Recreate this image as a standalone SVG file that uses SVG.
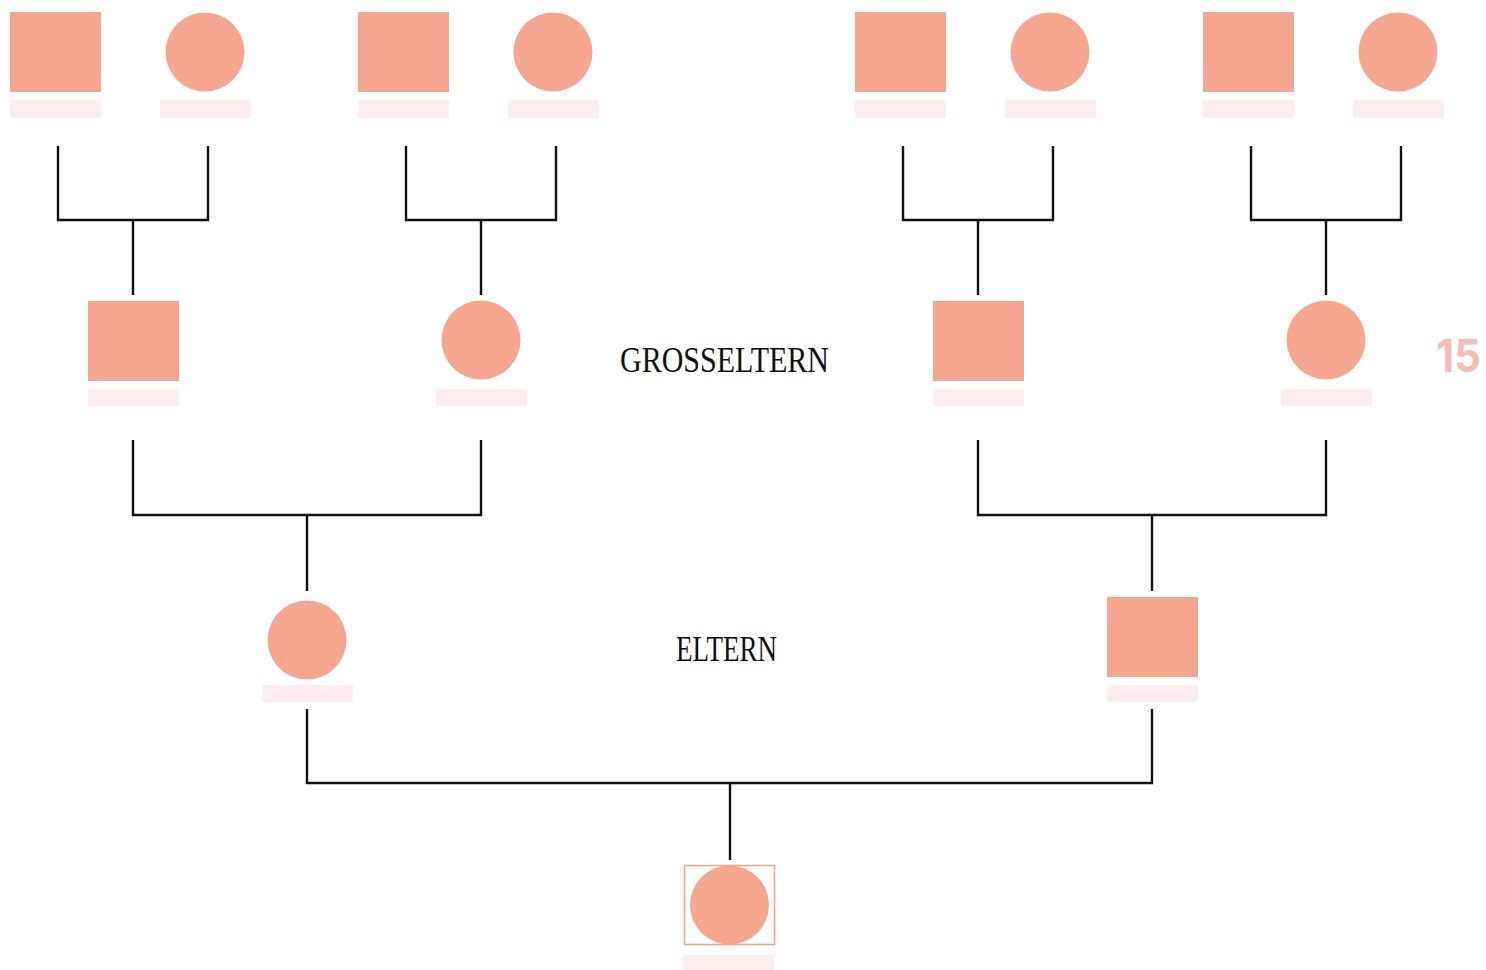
<svg xmlns="http://www.w3.org/2000/svg" width="1486" height="970" viewBox="0 0 1486 970">
  <style>
    .shape { fill: #F5A690; }
    .bar { fill: #FCEEEE; }
    .link { fill: none; stroke: #111; stroke-width: 2.4; stroke-linejoin: miter; stroke-linecap: butt; }
    .title { font-family: "Liberation Serif", "DejaVu Serif", serif; font-size: 36px; fill: #111; }
    .num { font-family: "Inter", "Liberation Sans", sans-serif; font-weight: 700; font-size: 45px; fill: #F4BDB5; }
  </style>

  <!-- pedigree connectors -->
  <g id="connectors" class="link">
    <path d="M58,146 V220 H208 V146 M133,220 V295"/>
    <path d="M406,146 V220 H556 V146 M481,220 V295"/>
    <path d="M903,146 V220 H1053 V146 M978,220 V295"/>
    <path d="M1251,146 V220 H1401 V146 M1326,220 V295"/>
    <path d="M133,440 V515 H481 V440 M307,515 V591"/>
    <path d="M978,440 V515 H1326 V440 M1152,515 V591"/>
    <path d="M307,709 V783 H1152 V709 M730,783 V860"/>
  </g>

  <!-- great-grandparents -->
  <g id="gg1"><rect class="shape" x="10" y="12" width="91" height="80"/><rect class="bar" x="10" y="100" width="91" height="18"/></g>
  <g id="gg2"><circle class="shape" cx="205" cy="52" r="39.5"/><rect class="bar" x="160" y="100" width="91" height="18"/></g>
  <g id="gg3"><rect class="shape" x="358" y="12" width="91" height="80"/><rect class="bar" x="358" y="100" width="91" height="18"/></g>
  <g id="gg4"><circle class="shape" cx="553" cy="52" r="39.5"/><rect class="bar" x="508" y="100" width="91" height="18"/></g>
  <g id="gg5"><rect class="shape" x="855" y="12" width="91" height="80"/><rect class="bar" x="855" y="100" width="91" height="18"/></g>
  <g id="gg6"><circle class="shape" cx="1050" cy="52" r="39.5"/><rect class="bar" x="1005" y="100" width="91" height="18"/></g>
  <g id="gg7"><rect class="shape" x="1203" y="12" width="91" height="80"/><rect class="bar" x="1203" y="100" width="91" height="18"/></g>
  <g id="gg8"><circle class="shape" cx="1398" cy="52" r="39.5"/><rect class="bar" x="1353" y="100" width="91" height="18"/></g>

  <!-- grandparents -->
  <g id="gp1"><rect class="shape" x="88" y="301" width="91" height="80"/><rect class="bar" x="88" y="389" width="91" height="17"/></g>
  <g id="gp2"><circle class="shape" cx="481" cy="340" r="39.5"/><rect class="bar" x="436" y="389" width="91" height="17"/></g>
  <g id="gp3"><rect class="shape" x="933" y="301" width="91" height="80"/><rect class="bar" x="933" y="389" width="91" height="17"/></g>
  <g id="gp4"><circle class="shape" cx="1326" cy="340" r="39.5"/><rect class="bar" x="1281" y="389" width="91" height="17"/></g>

  <!-- parents -->
  <g id="p1"><circle class="shape" cx="307" cy="640" r="39.5"/><rect class="bar" x="262" y="685" width="91" height="17"/></g>
  <g id="p2"><rect class="shape" x="1107" y="597" width="91" height="80"/><rect class="bar" x="1107" y="685" width="91" height="17"/></g>

  <!-- proband -->
  <g id="self">
    <rect x="684.5" y="865.5" width="90" height="79" fill="none" stroke="#F5A690" stroke-width="1.6"/>
    <circle class="shape" cx="729.5" cy="905" r="39.5"/>
    <rect class="bar" x="683" y="955" width="91" height="15"/>
  </g>

  <!-- generation labels -->
  <g id="labels">
    <text class="title" x="620" y="372" textLength="209" lengthAdjust="spacingAndGlyphs">GROSSELTERN</text>
    <text class="title" x="676" y="661" textLength="101" lengthAdjust="spacingAndGlyphs">ELTERN</text>
    <text class="num" x="1436" y="372" textLength="45" lengthAdjust="spacingAndGlyphs">15</text>
  </g>
</svg>
